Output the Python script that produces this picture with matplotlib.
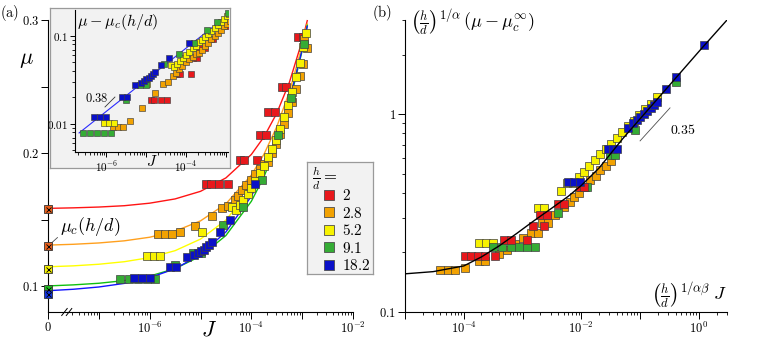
import matplotlib.pyplot as plt
import numpy as np
from matplotlib.lines import Line2D

plt.rcParams['mathtext.fontset'] = 'cm'
plt.rcParams['font.family'] = ['DejaVu Serif']

# h/d values, colours and mu_c(h/d) (the J = 0 values)
hd_labels = ['2', '2.8', '5.2', '9.1', '18.2']
marker_colors = ['#e8181c', '#f2a202', '#f7f200', '#35ac35', '#0a10c8']
line_colors = ['#ff1414', '#ffa01e', '#ffff00', '#10c010', '#1414ff']
muc_fill = ['#e8601c', '#e8601c', '#f5f000', '#22bb22', '#1133dd']
mu_c = [0.158, 0.130, 0.1125, 0.0975, 0.094]

# ---- panel (a): mu vs J ----
J_2 = [1.3e-5, 1.6e-5, 2.3e-5, 3.4e-5, 6.0e-5, 7.1e-5, 1.3e-4, 1.5e-4, 1.9e-4,
       2.1e-4, 2.9e-4, 4.0e-4, 4.8e-4, 8.3e-4, 1.05e-3]
mu_2 = [0.1767, 0.1767, 0.1767, 0.1767, 0.1947, 0.1947, 0.1947, 0.2135, 0.2135,
        0.231, 0.231, 0.25, 0.25, 0.287, 0.287]

J_28 = [1.45e-6, 2.0e-6, 2.7e-6, 3.9e-6, 7.7e-6, 1.7e-5, 2.6e-5, 3.5e-5, 4.7e-5,
        5.5e-5, 6.5e-5, 8.0e-5, 1.0e-4, 1.2e-4, 1.45e-4, 1.75e-4, 2.1e-4, 2.5e-4,
        3.0e-4, 3.6e-4, 4.3e-4, 5.2e-4, 6.2e-4, 7.5e-4, 9.0e-4, 1.05e-3, 1.1e-3, 1.24e-3]
mu_28 = [0.1393, 0.1393, 0.1393, 0.1408, 0.145, 0.1525, 0.1586, 0.160, 0.165,
         0.168, 0.172, 0.176, 0.180, 0.184, 0.188, 0.192, 0.1935, 0.200,
         0.207, 0.214, 0.222, 0.230, 0.238, 0.248, 0.258, 0.267, 0.286, 0.279]

J_52 = [9e-7, 1.2e-6, 1.6e-6, 1.05e-5, 4.1e-5, 5.0e-5, 6.0e-5, 7.0e-5, 8.5e-5,
        1.0e-4, 1.2e-4, 1.45e-4, 1.75e-4, 2.1e-4, 2.5e-4, 3.0e-4, 3.6e-4, 4.3e-4,
        5.2e-4, 6.2e-4, 7.5e-4, 9.0e-4, 1.05e-3, 1.2e-3]
mu_52 = [0.1228, 0.1228, 0.1228, 0.1406, 0.1594, 0.157, 0.161, 0.165, 0.169,
         0.174, 0.179, 0.185, 0.190, 0.197, 0.203, 0.210, 0.218, 0.227,
         0.236, 0.246, 0.257, 0.268, 0.280, 0.290]

J_91 = [2.6e-7, 4e-7, 6e-7, 9e-7, 1.3e-6, 3.2e-6, 7e-6, 1e-5, 2.8e-5, 6.8e-5,
        1.6e-4, 3.4e-4, 6e-4, 1.1e-3]
mu_91 = [0.1053, 0.1053, 0.1053, 0.1053, 0.1053, 0.116, 0.125, 0.125, 0.146, 0.1594,
         0.180, 0.2135, 0.241, 0.282]

J_182 = [5e-7, 7e-7, 1e-6, 2.5e-6, 3.3e-6, 5.4e-6, 7.5e-6, 9e-6, 1.0e-5, 1.15e-5,
         1.3e-5, 1.5e-5, 1.7e-5, 2.4e-5, 3.8e-5, 1.17e-4]
mu_182 = [0.106, 0.106, 0.106, 0.1145, 0.1145, 0.1218, 0.123, 0.1245, 0.126, 0.127,
          0.129, 0.131, 0.133, 0.1408, 0.1496, 0.1767]

# fitted curves of panel (a), sampled on log10(J)
logJ_fit = [-8, -7.5, -7, -6.5, -6, -5.5, -5, -4.5, -4, -3.75, -3.5, -3.25, -3, -2.9]
mu_fit_2 = [0.1584, 0.1588, 0.1594, 0.1604, 0.1623, 0.1655, 0.1712, 0.1813, 0.1989,
            0.2122, 0.2299, 0.2533, 0.2844, 0.2995]
mu_fit_28 = [0.1308, 0.1314, 0.1324, 0.1340, 0.1367, 0.1413, 0.1490, 0.1618, 0.1834,
             0.1992, 0.2197, 0.2462, 0.2805, 0.297]
mu_fit_52 = [0.1145, 0.1152, 0.1164, 0.1183, 0.1214, 0.1266, 0.1353, 0.1496, 0.1735,
             0.1908, 0.2130, 0.2417, 0.2786, 0.2962]
mu_fit_91 = [0.1001, 0.1009, 0.1021, 0.1041, 0.1075, 0.1131, 0.1225, 0.1380, 0.1637,
             0.1823, 0.2063, 0.2372, 0.2770, 0.296]
mu_fit_182 = [0.0965, 0.0976, 0.0993, 0.1020, 0.1063, 0.1130, 0.1237, 0.1407, 0.1675,
              0.1864, 0.2102, 0.2400, 0.2777, 0.2953]

# inset guide line (slope 0.38)
J_guide = [2.1e-7, 1.12e-3]
dmu_guide = [0.0079, 0.173]

# ---- panel (b): scaling collapse ----
X_2 = [1.05e-4, 1.35e-4, 1.75e-4, 2.3e-4, 3.4e-4, 4.8e-4, 6.3e-4, 1.17e-3, 1.5e-3,
       2.3e-3, 2.0e-3, 2.6e-3, 4.0e-3, 5.0e-3, 9.5e-3, 1.1e-2]
Y_2 = [0.192, 0.192, 0.192, 0.192, 0.192, 0.231, 0.231, 0.231, 0.272,
       0.272, 0.309, 0.309, 0.35, 0.35, 0.43, 0.43]

X_28 = [4.0e-5, 5.3e-5, 7.0e-5, 1.05e-4, 1.8e-4, 2.3e-4, 3.9e-4, 5.5e-4, 7.5e-4,
        1.0e-3, 1.4e-3, 1.8e-3, 2.1e-3, 2.7e-3, 3.5e-3, 5.0e-3, 6.3e-3, 7.5e-3,
        9.0e-3, 1.15e-2, 1.4e-2, 1.75e-2, 2.1e-2, 2.6e-2, 3.2e-2]
Y_28 = [0.163, 0.163, 0.163, 0.1675, 0.1815, 0.1815, 0.196, 0.206, 0.22,
        0.236, 0.251, 0.251, 0.282, 0.282, 0.31, 0.339, 0.36, 0.38,
        0.40, 0.43, 0.465, 0.49, 0.52, 0.55, 0.58]

X_52 = [1.8e-4, 2.4e-4, 3.2e-4, 1.8e-3, 2.3e-3, 4.5e-3, 5.8e-3, 7.2e-3, 9.0e-3,
        1.1e-2, 1.35e-2, 1.7e-2, 2.1e-2, 2.6e-2, 3.2e-2, 4.0e-2, 5.0e-2, 6.2e-2,
        7.8e-2, 9.5e-2, 0.12, 0.15, 0.19]
Y_52 = [0.223, 0.223, 0.223, 0.335, 0.335, 0.41, 0.447, 0.447, 0.48,
        0.51, 0.55, 0.59, 0.63, 0.67, 0.71, 0.76, 0.81, 0.87,
        0.93, 0.99, 1.06, 1.13, 1.22]

X_91 = [3.2e-4, 4.5e-4, 6.3e-4, 8.7e-4, 1.2e-3, 1.6e-3, 4.0e-3, 1.0e-2, 1.25e-2,
        3.1e-2, 3.7e-2, 8.3e-2, 0.4]
Y_91 = [0.213, 0.213, 0.213, 0.213, 0.213, 0.213, 0.316, 0.43, 0.43,
        0.625, 0.625, 0.83, 1.46]

X_182 = [6.0e-3, 7.6e-3, 9.5e-3, 2.8e-2, 3.4e-2, 4.1e-2, 6.1e-2, 7.5e-2, 8.8e-2,
         0.1, 0.115, 0.13, 0.15, 0.17, 0.19, 0.27, 0.4, 1.2]
Y_182 = [0.454, 0.454, 0.454, 0.67, 0.67, 0.67, 0.85, 0.9, 0.94,
         0.97, 1.0, 1.04, 1.08, 1.11, 1.15, 1.34, 1.55, 2.23]

X_fit_b = [1e-5, 3e-5, 1e-4, 2e-4, 4e-4, 8e-4, 1.5e-3, 3e-3, 6e-3, 1e-2, 2e-2,
           5e-2, 0.1, 0.3, 1.0, 3.0]
Y_fit_b = [0.156, 0.160, 0.171, 0.19, 0.216, 0.25, 0.287, 0.332, 0.385, 0.437, 0.535,
           0.75, 0.95, 1.38, 2.08, 3.0]

J_a = [J_2, J_28, J_52, J_91, J_182]
mu_a = [mu_2, mu_28, mu_52, mu_91, mu_182]
fits_a = [mu_fit_2, mu_fit_28, mu_fit_52, mu_fit_91, mu_fit_182]
X_b = [X_2, X_28, X_52, X_91, X_182]
Y_b = [Y_2, Y_28, Y_52, Y_91, Y_182]

W, H = 762, 342


def box(x0, y0, x1, y1):
    # pixel box (top-left origin) -> figure fraction
    return [x0 / W, 1 - y1 / H, (x1 - x0) / W, (y1 - y0) / H]


def style_axis(a, lab=9, maj=5, mnr=2.5):
    a.spines['top'].set_visible(False)
    a.spines['right'].set_visible(False)
    for s in ('left', 'bottom'):
        a.spines[s].set_linewidth(0.8)
    a.tick_params(which='major', direction='out', length=maj, width=0.7,
                  labelsize=lab, pad=1.5)
    a.tick_params(which='minor', direction='out', length=mnr, width=0.6)


def minor_log(lo, hi, start, stop):
    return [k * 10.0 ** n for n in range(lo, hi) for k in range(2, 10)
            if start <= k * 10.0 ** n <= stop]


fig = plt.figure(figsize=(W / 100, H / 100), dpi=100)

# ================= panel (a) =================
ax = fig.add_axes(box(48, 20, 353, 312))
ax.set_xscale('log')
ax.set_xlim(1e-8, 1e-2)
ax.set_ylim(0.0805, 0.3)
style_axis(ax)
ax.set_xticks([1e-8, 1e-7, 1e-6, 1e-5, 1e-4, 1e-3, 1e-2])
ax.set_xticklabels(['$0$', '', '$10^{-6}$', '', '$10^{-4}$', '', '$10^{-2}$'])
ax.set_xticks(minor_log(-8, -2, 3e-8, 1e-2), minor=True)
ax.set_xticklabels([], minor=True)
ax.set_yticks([0.1, 0.15, 0.2, 0.25, 0.3])
ax.set_yticklabels(['$0.1$', '', '$0.2$', '', '$0.3$'])

for f, lc in zip(fits_a, line_colors):
    ax.plot(10.0 ** np.array(logJ_fit), f, color=lc, lw=1.0, zorder=2, clip_on=False)
for J, m, c in zip(J_a, mu_a, marker_colors):
    ax.plot(J, m, 's', ms=5.8, mfc=c, mec='0.25', mew=0.5, zorder=3)
for m, c in zip(mu_c, muc_fill):
    ax.plot([1e-8], [m], 's', ms=6.2, mfc=c, mec='0.2', mew=0.6, zorder=5, clip_on=False)
    ax.plot([1e-8], [m], 'x', ms=3.6, mec='k', mew=0.6, zorder=6, clip_on=False)

ax.annotate(r'$\mu_c(h/d)$', xy=(1e-8, mu_c[1]), xytext=(1.75e-8, 0.1445),
            fontsize=13, ha='left', va='center',
            arrowprops=dict(arrowstyle='-', color='0.3', lw=0.6, shrinkA=0,
                            shrinkB=3, relpos=(0.0, 0.15)))

# axis break mark
for xb in (0.054, 0.069):
    ax.plot([xb - 0.009, xb + 0.009], [-0.012, 0.012], transform=ax.transAxes,
            color='k', lw=0.7, clip_on=False)

fig.text(26 / W, 1 - 59 / H, r'$\mu$', fontsize=16, ha='center', va='center')
fig.text(209 / W, 1 - 329 / H, r'$J$', fontsize=16, ha='center', va='center')
fig.text(0.0, 1 - 13 / H, r'$\mathrm{(a)}$', fontsize=10.5, ha='left', va='center')

# ---- inset ----
bg = fig.add_axes(box(50, 8, 230, 168))
bg.set_facecolor('#f2f2f2')
bg.set_xticks([])
bg.set_yticks([])
for s in bg.spines.values():
    s.set_color('#9a9a9a')
    s.set_linewidth(0.9)

axi = fig.add_axes(box(75, 10, 228, 152))
axi.set_facecolor('none')
axi.set_xscale('log')
axi.set_yscale('log')
axi.set_xlim(10 ** -6.78, 10 ** -2.95)
axi.set_ylim(0.0048, 0.197)
style_axis(axi, lab=8, maj=3.5, mnr=2)
axi.set_xticks([1e-6, 1e-5, 1e-4, 1e-3])
axi.set_xticklabels(['$10^{-6}$', '', '$10^{-4}$', ''])
axi.set_xticks(minor_log(-7, -2, 10 ** -6.78, 10 ** -2.95), minor=True)
axi.set_xticklabels([], minor=True)
axi.set_yticks([0.01, 0.1])
axi.set_yticklabels(['$0.01$', '$0.1$'])
axi.set_yticks(minor_log(-3, 0, 0.0048, 0.197), minor=True)
axi.set_yticklabels([], minor=True)

axi.plot(J_guide, dmu_guide, color='#2a2aff', lw=0.8, zorder=2)
for J, m, mc, c in zip(J_a, mu_a, mu_c, marker_colors):
    axi.plot(J, np.array(m) - mc, 's', ms=4.4, mfc=c, mec='0.25', mew=0.45, zorder=3)

axi.text(0.01, 0.985, r'$\mu-\mu_c(h/d)$', transform=axi.transAxes,
         fontsize=11.5, ha='left', va='top')
axi.text(0.5, -0.07, r'$J$', transform=axi.transAxes, fontsize=11,
         ha='center', va='center')
axi.text(0.144, 0.38, r'$0.38$', transform=axi.transAxes, fontsize=9,
         ha='center', va='center')
axi.plot([0.196, 0.261], [0.317, 0.387], transform=axi.transAxes, color='0.2', lw=0.6)

# ---- legend ----
lg = fig.add_axes(box(307, 162, 373, 274))
lg.set_facecolor('#f2f2f2')
lg.set_xticks([])
lg.set_yticks([])
for s in lg.spines.values():
    s.set_color('#9a9a9a')
    s.set_linewidth(0.9)
fig.text(312 / W, 1 - 178 / H, r'$\frac{h}{d}=$', fontsize=12, ha='left', va='center')
handles = [Line2D([0], [0], marker='s', ls='none', ms=6.5, mfc=c, mec='0.3', mew=0.6)
           for c in marker_colors]
fig.legend(handles, ['$%s$' % s for s in hd_labels], loc='upper left',
           bbox_to_anchor=(322 / W, 1 - 188 / H), frameon=False, fontsize=11,
           handlelength=0.9, handletextpad=0.4, labelspacing=0.17,
           borderpad=0, borderaxespad=0)

# ================= panel (b) =================
axb = fig.add_axes(box(405, 20, 727, 312))
axb.set_xscale('log')
axb.set_yscale('log')
axb.set_xlim(1e-5, 3)
axb.set_ylim(0.1, 3)
style_axis(axb)
axb.set_xticks([1e-5, 1e-4, 1e-3, 1e-2, 1e-1, 1e0])
axb.set_xticklabels(['', '$10^{-4}$', '', '$10^{-2}$', '', '$10^{0}$'])
axb.set_xticks(minor_log(-5, 1, 1e-5, 3), minor=True)
axb.set_xticklabels([], minor=True)
axb.set_yticks([0.1, 1])
axb.set_yticklabels(['$0.1$', '$1$'])
axb.set_yticks(minor_log(-1, 1, 0.1, 3), minor=True)
axb.set_yticklabels([], minor=True)

for i in (1, 2, 3, 0, 4):
    axb.plot(X_b[i], Y_b[i], 's', ms=5.8, mfc=marker_colors[i], mec='0.25',
             mew=0.5, zorder=3)
axb.plot(X_fit_b, Y_fit_b, color='k', lw=1.0, zorder=4)

axb.plot([0.730, 0.823], [0.586, 0.699], transform=axb.transAxes, color='0.3', lw=0.6)
axb.text(0.823, 0.623, r'$0.35$', transform=axb.transAxes, fontsize=10,
         ha='left', va='center')
axb.text(0.015, 0.99, r'$\left(\frac{h}{d}\right)^{1/\alpha}\,(\mu-\mu_c^{\infty})$',
         transform=axb.transAxes, fontsize=13, ha='left', va='center')
axb.text(1.0, 0.055, r'$\left(\frac{h}{d}\right)^{1/\alpha\beta}\;J$',
         transform=axb.transAxes, fontsize=13, ha='right', va='center')
fig.text(372 / W, 1 - 13 / H, r'$\mathrm{(b)}$', fontsize=10.5, ha='left', va='center')

fig.savefig('out.png', dpi=100)
